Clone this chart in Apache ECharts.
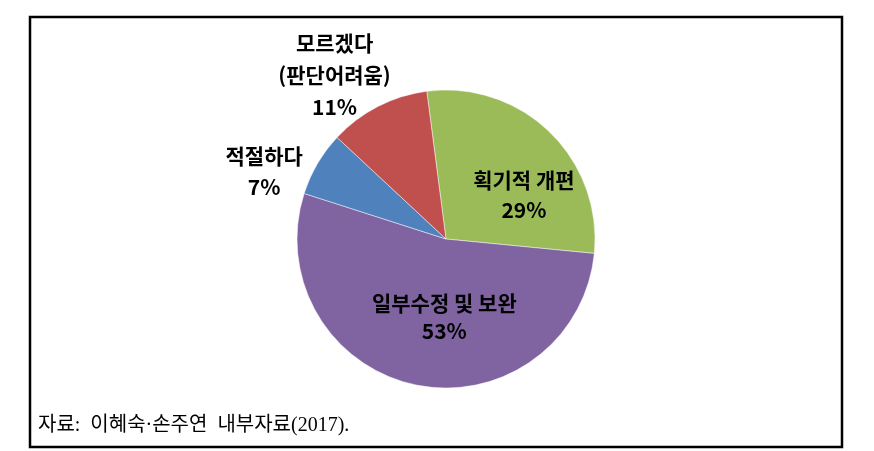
<!DOCTYPE html>
<html>
<head>
<meta charset="utf-8">
<script src="https://cdn.jsdelivr.net/npm/echarts@6/dist/echarts.min.js"></script>
<style>
html,body{margin:0;padding:0;background:#fff;}
#chart{width:874px;height:451px;}
</style>
</head>
<body>
<div id="chart"></div>
<script>
// Data
var categories = ['획기적 개편', '일부수정 및 보완', '적절하다', '모르겠다\n(판단어려움)'];
var shares = [28.6, 53.4, 7.0, 11.0];
var sourceNote = '자료:  이혜숙·손주연  내부자료(2017).';

// Styles (kept separate from the data)
var sliceColors = ['#9BBB59', '#8064A2', '#4F81BD', '#C0504D'];
var labelOffsets = [[24, 12], [14, 2], [-115, -28], [-76, -95]];
var labelLineHeights = [30, 28, 31, 32];

var chart = echarts.init(document.getElementById('chart'), null, {renderer: 'canvas'});

var seriesData = categories.map(function (name, i) {
  return {
    name: name,
    value: shares[i],
    itemStyle: {color: sliceColors[i]},
    label: {offset: labelOffsets[i], lineHeight: labelLineHeights[i]}
  };
});

chart.setOption({
  animation: false,
  backgroundColor: '#ffffff',
  title: {
    text: sourceNote,
    left: 33,
    top: 411,
    textStyle: {
      fontFamily: '"Liberation Serif", "Noto Sans CJK KR", serif',
      fontWeight: 'normal',
      fontSize: 20,
      color: '#000'
    }
  },
  graphic: [{
    type: 'rect',
    shape: {x: 30, y: 17, width: 812, height: 430},
    style: {fill: 'none', stroke: '#000', lineWidth: 2.5},
    silent: true,
    z: 10
  }],
  series: [{
    type: 'pie',
    center: [446, 239],
    radius: 149,
    startAngle: 97.4,
    clockwise: true,
    percentPrecision: 0,
    avoidLabelOverlap: false,
    itemStyle: {borderColor: 'rgba(255,255,255,0.6)', borderWidth: 0.8},
    label: {
      show: true,
      position: 'inside',
      formatter: '{b}\n{d}%',
      fontFamily: '"Noto Sans CJK KR", sans-serif',
      fontWeight: 'bold',
      fontSize: 21,
      color: '#000',
      align: 'center'
    },
    labelLine: {show: false},
    emphasis: {disabled: true},
    data: seriesData
  }]
});
</script>
</body>
</html>
